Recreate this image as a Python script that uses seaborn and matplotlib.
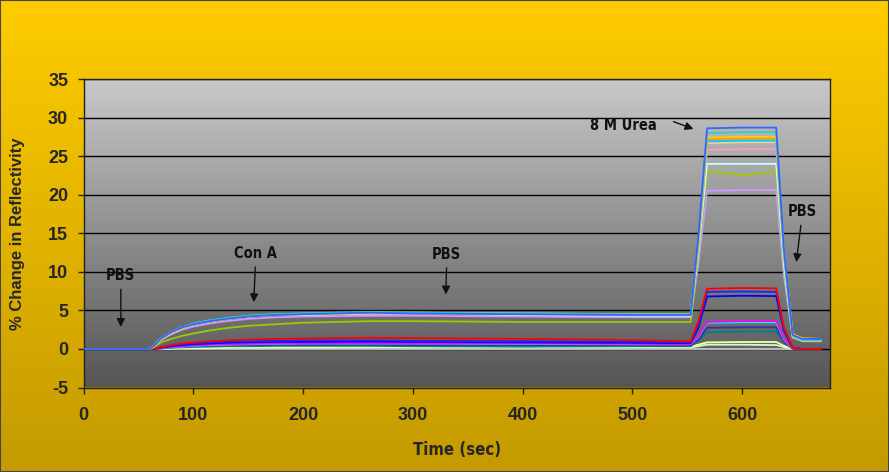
import numpy as np
import pandas as pd
import matplotlib
matplotlib.use("Agg")
import matplotlib.pyplot as plt
from matplotlib.colors import LinearSegmentedColormap
from matplotlib.patches import Rectangle
import seaborn as sns

# time points (sec)
time_s = [0, 60, 65, 70, 80, 90, 100, 115, 130, 150, 175, 200, 260, 300, 400, 500,
          553, 560, 568, 600, 631, 638, 646, 655, 672]

# high responders
s_blue = [0, 0, 0.5, 1.3, 2.2, 2.8, 3.2, 3.6, 3.9, 4.2, 4.4, 4.5, 4.7, 4.6, 4.5, 4.4,
          4.4, 14.5, 28.6, 28.7, 28.7, 13.0, 1.8, 1.3, 1.3]
s_aqua = [0, 0, 0.5, 1.3, 2.2, 2.8, 3.3, 3.7, 4.0, 4.3, 4.5, 4.6, 4.8, 4.7, 4.6, 4.5,
          4.5, 14.0, 28.0, 28.1, 28.1, 12.5, 1.7, 1.2, 1.2]
s_gold = [0, 0, 0.4, 1.2, 2.1, 2.7, 3.2, 3.6, 3.9, 4.2, 4.4, 4.5, 4.7, 4.7, 4.6, 4.5,
          4.5, 13.5, 27.4, 27.5, 27.5, 12.8, 1.9, 1.4, 1.3]
s_orange = [0, 0, 0.45, 1.25, 2.15, 2.75, 3.2, 3.6, 3.9, 4.2, 4.4, 4.5, 4.7, 4.6, 4.5, 4.5,
            4.5, 13.6, 27.2, 27.3, 27.3, 12.7, 1.9, 1.3, 1.3]
s_sky = [0, 0, 0.5, 1.3, 2.2, 2.8, 3.3, 3.7, 4.0, 4.3, 4.5, 4.6, 4.7, 4.7, 4.6, 4.5,
         4.5, 13.5, 26.9, 27.0, 27.0, 12.5, 1.8, 1.2, 1.2]
s_tan = [0, 0, 0.4, 1.2, 2.1, 2.7, 3.2, 3.6, 3.9, 4.2, 4.4, 4.5, 4.6, 4.6, 4.5, 4.4,
         4.4, 13.2, 26.7, 26.8, 26.8, 12.3, 1.7, 1.2, 1.2]
s_rose = [0, 0, 0.5, 1.3, 2.2, 2.8, 3.2, 3.6, 3.9, 4.2, 4.4, 4.5, 4.6, 4.6, 4.5, 4.4,
          4.4, 13.0, 25.8, 25.9, 25.9, 12.0, 1.6, 1.1, 1.1]
s_turq = [0, 0, 0.5, 1.3, 2.2, 2.8, 3.2, 3.6, 3.9, 4.2, 4.4, 4.4, 4.6, 4.6, 4.4, 4.3,
          4.3, 12.5, 24.0, 24.0, 24.0, 11.0, 1.6, 1.1, 1.1]
s_lime = [0, 0, 0.3, 0.8, 1.3, 1.7, 2.0, 2.4, 2.7, 3.0, 3.2, 3.4, 3.6, 3.6, 3.5, 3.5,
          3.5, 12.0, 23.1, 22.5, 23.0, 10.5, 1.5, 1.0, 1.0]
s_lav = [0, 0, 0.4, 1.1, 1.9, 2.5, 2.9, 3.3, 3.6, 3.9, 4.1, 4.2, 4.3, 4.3, 4.2, 4.1,
         4.1, 11.0, 20.5, 20.6, 20.6, 9.5, 1.5, 1.0, 1.0]

# low responders
s_red = [0, 0, 0.05, 0.2, 0.5, 0.7, 0.85, 1.0, 1.1, 1.2, 1.3, 1.35, 1.45, 1.4, 1.3, 1.15,
         1.0, 3.5, 7.8, 7.9, 7.85, 2.8, 0.1, 0, 0]
s_blue2 = [0, 0, 0.05, 0.2, 0.45, 0.6, 0.75, 0.85, 0.95, 1.0, 1.05, 1.1, 1.1, 1.05, 1.0, 0.95,
           0.85, 3.0, 7.4, 7.45, 7.4, 2.6, 0.1, 0, 0]
s_blue3 = [0, 0, 0.03, 0.15, 0.35, 0.5, 0.6, 0.7, 0.8, 0.85, 0.9, 0.9, 0.95, 0.9, 0.85, 0.8,
           0.75, 2.7, 6.8, 6.9, 6.85, 2.4, 0.1, 0, 0]
s_magenta = [0, 0, 0.02, 0.1, 0.25, 0.35, 0.45, 0.55, 0.6, 0.65, 0.7, 0.7, 0.75, 0.7, 0.7, 0.65,
             0.6, 1.6, 3.5, 3.6, 3.6, 1.3, 0.05, 0, 0]
s_cyan = [0, 0, 0.02, 0.1, 0.2, 0.3, 0.4, 0.5, 0.55, 0.6, 0.65, 0.7, 0.7, 0.7, 0.65, 0.6,
          0.6, 1.5, 3.4, 3.45, 3.45, 1.2, 0.05, 0, 0]
s_indigo = [0, 0, 0.02, 0.08, 0.2, 0.3, 0.35, 0.45, 0.5, 0.5, 0.55, 0.55, 0.55, 0.5, 0.5, 0.5,
            0.45, 1.2, 2.75, 2.8, 2.8, 1.0, 0.05, 0, 0]
s_teal = [0, 0, 0.01, 0.05, 0.15, 0.2, 0.25, 0.3, 0.35, 0.35, 0.4, 0.4, 0.4, 0.35, 0.3, 0.35,
          0.35, 1.0, 2.2, 2.25, 2.25, 0.8, 0.03, 0, 0]
s_ltyellow = [0, 0, 0, 0.03, 0.08, 0.12, 0.15, 0.2, 0.22, 0.25, 0.25, 0.25, 0.3, 0.3, 0.3, 0.3,
              0.3, 0.55, 0.85, 0.9, 0.9, 0.4, 0.02, 0, 0]
s_ltgreen = [0, 0, 0, 0.02, 0.05, 0.08, 0.1, 0.12, 0.15, 0.15, 0.18, 0.18, 0.2, 0.2, 0.2, 0.2,
             0.2, 0.35, 0.55, 0.55, 0.5, 0.25, 0, 0, 0]
s_silver = [0, 0, 0, 0, 0, 0, 0, 0, 0, 0, 0, 0, 0, 0, 0, 0,
            0, 0, 0, 0, 0, 0, 0, 0, 0]

series = [
    ("silver", "#C8C8C8", s_silver),
    ("ltgreen", "#CCFFCC", s_ltgreen),
    ("ltyellow", "#FFFF99", s_ltyellow),
    ("teal", "#008080", s_teal),
    ("indigo", "#333399", s_indigo),
    ("cyan", "#00FFFF", s_cyan),
    ("magenta", "#FF00FF", s_magenta),
    ("blue3", "#0000FF", s_blue3),
    ("blue2", "#2424E8", s_blue2),
    ("red", "#FF0000", s_red),
    ("lav", "#CC99FF", s_lav),
    ("lime", "#99CC00", s_lime),
    ("turq", "#CCFFFF", s_turq),
    ("rose", "#FF99CC", s_rose),
    ("tan", "#FFCC99", s_tan),
    ("sky", "#00CCFF", s_sky),
    ("orange", "#FF9900", s_orange),
    ("gold", "#FFCC00", s_gold),
    ("aqua", "#33CCCC", s_aqua),
    ("blue", "#3366FF", s_blue),
]

rows = []
for name, col, vals in series:
    for t, v in zip(time_s, vals):
        rows.append((name, t, v))
df = pd.DataFrame(rows, columns=["series", "time", "value"])
palette = {name: col for name, col, _ in series}
order = [name for name, _, _ in series]

sns.set_style("ticks")
plt.rcParams["font.family"] = ["Liberation Sans", "DejaVu Sans"]
plt.rcParams["axes.unicode_minus"] = False
narrow = ["DejaVu Sans", "Liberation Sans"]

fig = plt.figure(figsize=(8.89, 4.72), dpi=100)

# yellow gradient background
bg = fig.add_axes([0, 0, 1, 1], zorder=-5)
ycmap = LinearSegmentedColormap.from_list("y", ["#C49A00", "#FFCC00"])
bg.imshow(np.linspace(0, 1, 256).reshape(-1, 1)[::-1], aspect="auto", cmap=ycmap,
          extent=[0, 1, 0, 1])
bg.axis("off")
fig.patches.append(Rectangle((0, 0), 1, 1, transform=fig.transFigure, fill=False,
                             ec="#444444", lw=1.5))

ax = fig.add_axes([83.5 / 889, (472 - 387.5) / 472, (830 - 83.5) / 889, (387.5 - 79) / 472])
ax.set_facecolor("none")
gcmap = LinearSegmentedColormap.from_list("g", ["#555555", "#C9C9C9"])
ax.imshow(np.linspace(0, 1, 256).reshape(-1, 1)[::-1], aspect="auto", cmap=gcmap,
          extent=[0, 680, -5, 35], zorder=0)

sns.lineplot(data=df, x="time", y="value", hue="series", hue_order=order, palette=palette,
             estimator=None, sort=False, legend=False, linewidth=1.3, ax=ax, zorder=3)

ax.set_xlim(0, 680)
ax.set_ylim(-5, 35)
ax.set_xticks(range(0, 601, 100))
ax.set_yticks(range(-5, 36, 5))
ax.set_axisbelow(True)
ax.yaxis.grid(True, color="black", lw=1)
ax.xaxis.grid(False)
for sp in ax.spines.values():
    sp.set_color("#222222")
    sp.set_linewidth(1)
ax.tick_params(axis="both", direction="out", length=4, width=1, color="#222222",
               labelsize=13)
ax.tick_params(axis="x", pad=10)
ax.tick_params(axis="y", pad=7)
for lab in ax.get_xticklabels() + ax.get_yticklabels():
    lab.set_fontweight("bold")

ax.set_xlabel("Time (sec)", fontsize=12, fontweight="bold", family=narrow,
              fontstretch="condensed", labelpad=12)
ax.set_ylabel("% Change in Reflectivity", fontsize=12, fontweight="bold")
ax.yaxis.set_label_coords(-0.078, 0.5)

arrow = dict(arrowstyle="-|>", color="#111111", lw=1, mutation_scale=12)
notes = [
    ("PBS", (34, 2.5), (34, 8.5)),
    ("Con A", (155, 5.7), (157, 11.4)),
    ("PBS", (330, 6.7), (331, 11.3)),
    ("PBS", (649, 10.9), (655, 16.8)),
]
for txt, xy, xytext in notes:
    ax.annotate(txt, xy=xy, xytext=xytext, ha="center", va="bottom", fontsize=10.5,
                family=narrow, fontstretch="condensed", fontweight="bold",
                color="#111111", arrowprops=arrow)
ax.text(492, 29.0, "8 M Urea", ha="center", va="center", fontsize=10.5, family=narrow,
        fontstretch="condensed", fontweight="bold", color="#111111")
ax.annotate("", xy=(558, 28.4), xytext=(535, 29.6), arrowprops=arrow)

fig.savefig("out.png", dpi=100)
